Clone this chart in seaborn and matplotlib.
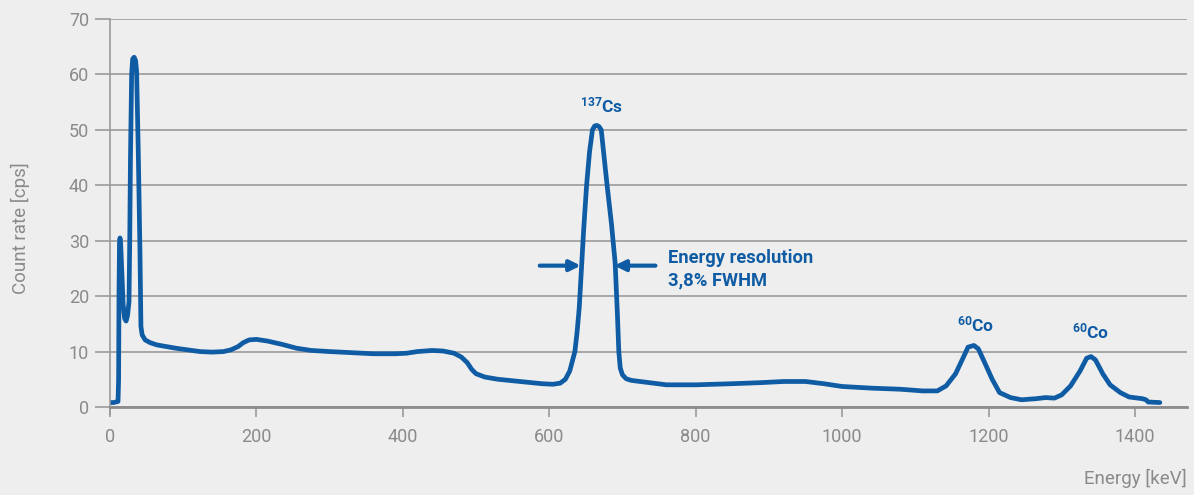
#!/usr/bin/env python3
"""Gamma spectrum of a scintillation detector (Cs-137 / Co-60)."""

import matplotlib.pyplot as plt
import pandas as pd
import seaborn as sns

# Spectrum
ENERGY_KEV = [
    0, 5, 11, 11.8, 12.3, 13, 13.7, 14.6, 16, 18, 20, 22, 24, 26, 27, 28,
    29.6, 31, 33, 35, 36.4, 38.7, 41, 42.3, 44, 48, 55, 64, 90, 123, 140,
    155, 165, 175, 182, 190, 200, 215, 235, 255, 275, 300, 330, 360, 390,
    405, 420, 440, 455, 470, 480, 488, 494, 500, 512, 530, 560, 590, 605,
    615, 622, 628, 632, 635, 638, 641, 644, 647, 651, 655, 659, 662, 665,
    668, 671, 675, 679, 685, 690, 693, 695, 697, 700, 705, 712, 730, 760,
    800, 850, 890, 920, 950, 975, 1000, 1040, 1080, 1110, 1130, 1142, 1155,
    1165, 1172, 1180, 1186, 1193, 1205, 1215, 1230, 1245, 1265, 1278, 1290,
    1300, 1312, 1325, 1334, 1340, 1346, 1356, 1366, 1380, 1392, 1410, 1415,
    1418, 1434,
]
COUNT_RATE = [
    0.8, 0.8, 1.0, 5, 20, 29.5, 30.5, 29.5, 25, 18.5, 16, 15.5, 16.5, 19,
    30, 45, 60, 62.8, 63.1, 62.5, 60.5, 45.8, 27.8, 14.5, 13, 12.1, 11.6,
    11.2, 10.6, 10.0, 9.9, 10.0, 10.3, 10.9, 11.6, 12.1, 12.2, 11.9, 11.3,
    10.6, 10.2, 10.0, 9.8, 9.6, 9.6, 9.7, 10.0, 10.2, 10.1, 9.7, 9.0, 8.0,
    6.8, 6.0, 5.4, 5.0, 4.6, 4.2, 4.1, 4.3, 5.0, 6.5, 8.5, 10, 13.5, 18, 25,
    32, 40, 46, 50, 50.7, 50.8, 50.6, 50, 45, 40, 33, 26, 17, 10, 7, 5.8,
    5.1, 4.8, 4.5, 4.0, 4.0, 4.2, 4.4, 4.6, 4.6, 4.2, 3.7, 3.4, 3.2, 2.9,
    2.9, 3.8, 6, 8.8, 10.8, 11.1, 10.5, 8.5, 5.0, 2.6, 1.7, 1.3, 1.5, 1.7,
    1.6, 2.2, 3.8, 6.5, 8.8, 9.1, 8.5, 6, 4, 2.6, 1.8, 1.5, 1.3, 0.9, 0.8,
]

X_TICKS = [0, 200, 400, 600, 800, 1000, 1200, 1400]
Y_TICKS = [0, 10, 20, 30, 40, 50, 60, 70]

BLUE = "#0f5ca5"
GRID = "#9a9a9a"
TEXT = "#8a8a8a"
BG = "#eeeeee"


def main():
    sns.set_theme(style="white")
    plt.rcParams["font.family"] = ["Roboto", "DejaVu Sans"]
    plt.rcParams["mathtext.default"] = "regular"

    df = pd.DataFrame({"energy": ENERGY_KEV, "rate": COUNT_RATE})

    fig = plt.figure(figsize=(11.94, 4.95), dpi=100, facecolor=BG)
    ax = fig.add_axes([0.0921, 0.1778, 0.9020, 0.7838])
    ax.set_facecolor(BG)

    sns.lineplot(data=df, x="energy", y="rate", color=BLUE, linewidth=3.4,
                 sort=False, ax=ax, solid_capstyle="round", solid_joinstyle="round")

    ax.set_xlim(0, 1471)
    ax.set_ylim(0, 70)
    ax.set_xticks(X_TICKS)
    ax.set_yticks(Y_TICKS)
    ax.yaxis.grid(True, color=GRID, linewidth=1.2)
    ax.set_axisbelow(True)

    for side in ["top", "right"]:
        ax.spines[side].set_visible(False)
    ax.spines["left"].set_color(GRID)
    ax.spines["left"].set_linewidth(1.2)
    ax.spines["left"].set_bounds(-1.2, 70)
    ax.spines["bottom"].set_color("#8c8c8c")
    ax.spines["bottom"].set_linewidth(2)

    ax.tick_params(axis="x", direction="out", length=7, width=1.2, color=GRID,
                   labelsize=13, labelcolor=TEXT, pad=8, bottom=True)
    ax.tick_params(axis="y", direction="out", length=11, width=1.2, color=GRID,
                   labelsize=13, labelcolor=TEXT, pad=4, left=True)

    ax.set_xlabel("")
    ax.set_ylabel("")
    fig.text(0.017, 0.54, "Count rate [cps]", rotation=90, ha="center",
             va="center", fontsize=13.5, color=TEXT)
    fig.text(0.994, 0.015, "Energy [keV]", ha="right", va="bottom",
             fontsize=13.5, color=TEXT)

    # Peak labels
    ax.text(672, 53.2, r"$^{137}$Cs", ha="center", va="baseline",
            fontsize=12.5, fontweight="bold", color=BLUE)
    ax.text(1182, 13.7, r"$^{60}$Co", ha="center", va="baseline",
            fontsize=12.5, fontweight="bold", color=BLUE)
    ax.text(1340, 12.3, r"$^{60}$Co", ha="center", va="baseline",
            fontsize=12.5, fontweight="bold", color=BLUE)

    # FWHM arrows
    arrow = dict(arrowstyle="-|>", color=BLUE, lw=3, mutation_scale=16,
                 shrinkA=0, shrinkB=0)
    ax.annotate("", xy=(643, 25.5), xytext=(587, 25.5), arrowprops=arrow)
    ax.annotate("", xy=(689, 25.5), xytext=(745, 25.5), arrowprops=arrow)
    ax.text(762, 24.8, "Energy resolution\n3,8% FWHM", ha="left", va="center",
            fontsize=13.2, fontweight="bold", color=BLUE, linespacing=1.3)

    fig.savefig("out.png", dpi=100, facecolor=BG)
    plt.close(fig)


if __name__ == "__main__":
    main()
